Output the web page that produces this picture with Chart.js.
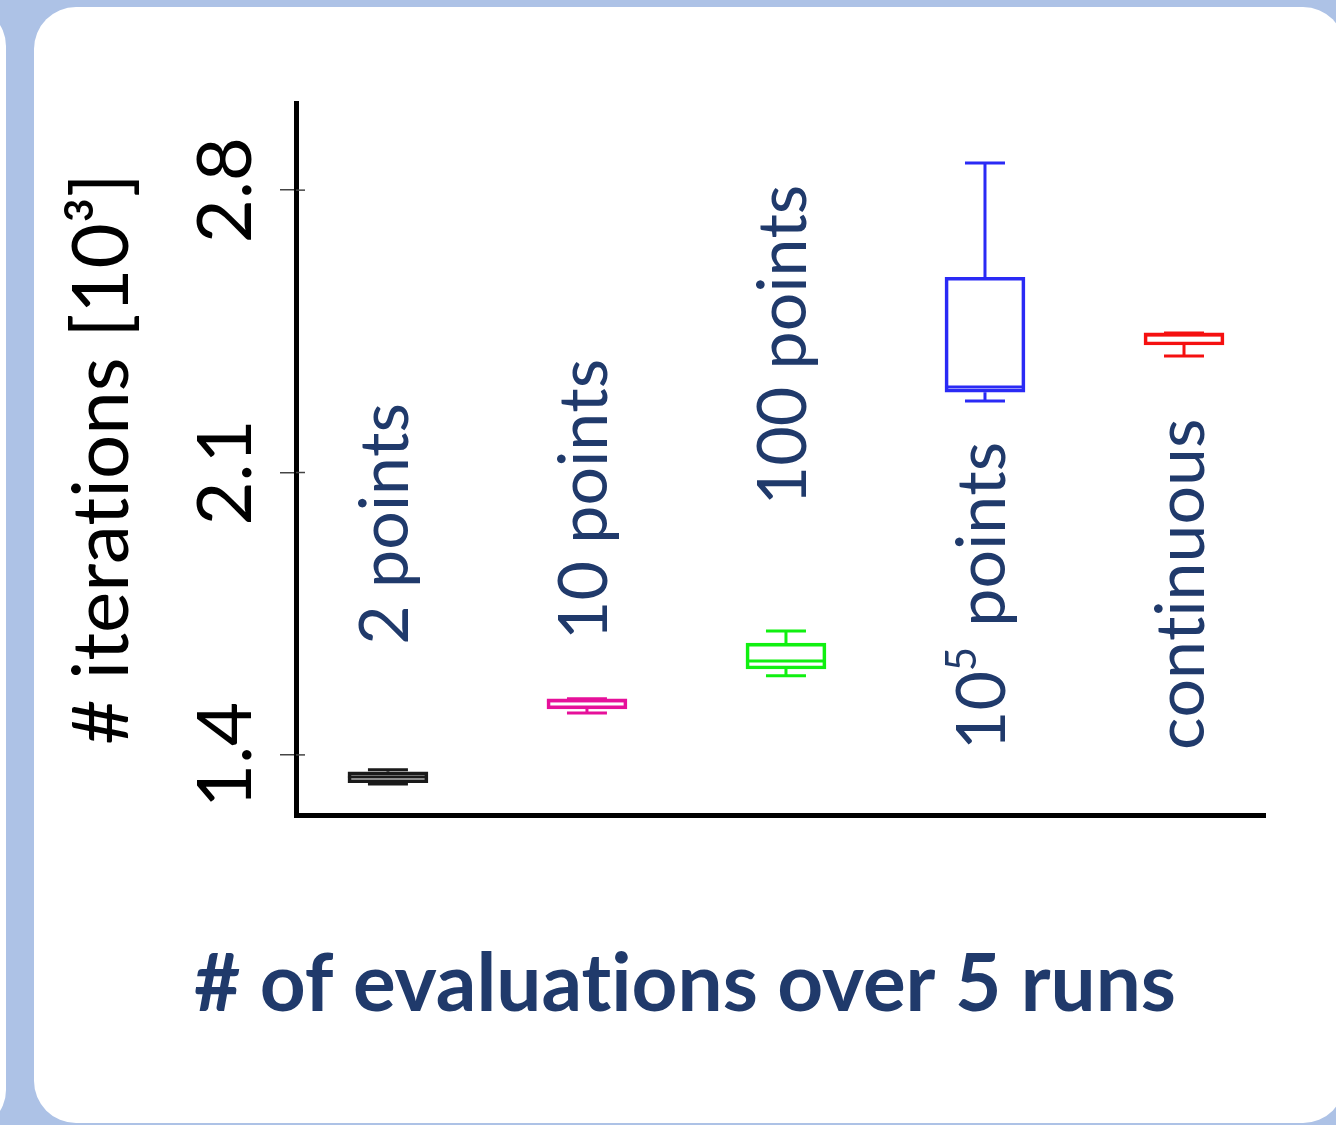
<!DOCTYPE html>
<html>
<head>
<meta charset="utf-8">
<script src="https://cdn.jsdelivr.net/npm/chart.js@4.4.0/dist/chart.umd.min.js"></script>
<style>
  html, body { margin: 0; padding: 0; width: 1336px; height: 1125px; overflow: hidden; background: #adc2e6; }
  .side  { position: absolute; left: -100px; top: 6px; width: 106px; height: 1124px; background: #fff; border-radius: 40px; }
  .panel { position: absolute; left: 34px; top: 7px; width: 1311px; height: 1116px; background: #fff; border-radius: 42px; }
  #wrap  { position: absolute; left: 0; top: 0; width: 1336px; height: 1125px; }
</style>
</head>
<body>
<div class="side"></div>
<div class="panel"></div>
<div id="wrap"><canvas id="c"></canvas></div>
<script>
// Evaluation schemes (one box per scheme) and their position on the x axis
const categories  = ['2 points', '10 points', '100 points', '10⁵ points', 'continuous'];
const positions   = [1, 2, 3, 4, 5];

// Iterations [10^3] over 5 runs: box-plot summary per scheme
const whiskerLow  = [1.328, 1.504, 1.596, 2.277, 2.389];
const q1          = [1.331, 1.514, 1.613, 2.299, 2.416];
const median      = [1.345, 1.534, 1.633, 2.312, 2.441];
const q3          = [1.358, 1.539, 1.677, 2.584, 2.446];
const whiskerHigh = [1.363, 1.539, 1.707, 2.867, 2.446];

// y-axis tick values
const yTicks = [1.4, 2.1, 2.8];

// value at which each rotated category label starts
const labelBase = [1.673, 1.685, 2.019, 1.412, 1.412];

// axis captions (ZWNJ keeps "t" and "i" from merging into a ligature)
const yTitle = '# it\u200Cerat\u200Cions [10³]';
const xTitle = '# of evaluat\u200Cions over 5 runs';

const boxColors = ['#1a1a1a', '#e6109a', '#10f010', '#2a2af5', '#f51010'];
const NAVY = '#203a6b';
const BOX_W = 80;

// draw text, rendering superscript digits smaller and raised
const SUP = { '⁰':'0','¹':'1','²':'2','³':'3','⁴':'4','⁵':'5','⁶':'6','⁷':'7','⁸':'8','⁹':'9' };
function drawRich(ctx, text, size, weight) {
  let xOff = 0;
  const norm = `${weight} ${size}px Lato`;
  const small = `${weight} ${Math.round(size * 0.62)}px Lato`;
  for (const ch of text) {
    if (SUP[ch]) {
      ctx.font = small;
      ctx.fillText(SUP[ch], xOff, -size * 0.3);
      xOff += ctx.measureText(SUP[ch]).width + size * 0.04;
    } else {
      ctx.font = norm;
      ctx.fillText(ch, xOff, 0);
      xOff += ctx.measureText(ch).width;
    }
  }
}

// medians, whiskers and caps, positioned through the chart scales
const boxParts = {
  id: 'boxParts',
  afterDatasetsDraw(chart) {
    const { ctx, scales: { x, y } } = chart;
    ctx.save();
    ctx.lineWidth = 3;
    positions.forEach((p, i) => {
      const cx = x.getPixelForValue(p);
      const half = BOX_W / 2, cap = BOX_W / 4;
      const yMed = y.getPixelForValue(median[i]);
      const yQ1 = y.getPixelForValue(q1[i]), yQ3 = y.getPixelForValue(q3[i]);
      const yLo = y.getPixelForValue(whiskerLow[i]), yHi = y.getPixelForValue(whiskerHigh[i]);
      ctx.strokeStyle = boxColors[i];
      ctx.beginPath();
      ctx.moveTo(cx - half, yMed); ctx.lineTo(cx + half, yMed);
      ctx.moveTo(cx, yQ3); ctx.lineTo(cx, yHi);
      ctx.moveTo(cx - cap, yHi); ctx.lineTo(cx + cap, yHi);
      ctx.moveTo(cx, yQ1); ctx.lineTo(cx, yLo);
      ctx.moveTo(cx - cap, yLo); ctx.lineTo(cx + cap, yLo);
      ctx.stroke();
    });
    // inner part of the y tick marks
    ctx.strokeStyle = '#444';
    ctx.lineWidth = 1.5;
    yTicks.forEach(v => {
      const py = y.getPixelForValue(v);
      ctx.beginPath();
      ctx.moveTo(x.left, py); ctx.lineTo(x.left + 9, py);
      ctx.stroke();
    });
    ctx.restore();
  },
  afterDraw(chart) {
    const { ctx, scales: { x, y } } = chart;
    ctx.save();
    ctx.fillStyle = NAVY;
    ctx.textBaseline = 'middle';
    ctx.textAlign = 'left';
    categories.forEach((label, i) => {
      ctx.save();
      ctx.translate(x.getPixelForValue(positions[i]) - 2, y.getPixelForValue(labelBase[i]));
      ctx.rotate(-Math.PI / 2);
      drawRich(ctx, label, 68, 'normal');
      ctx.restore();
    });
    // x-axis caption
    ctx.textAlign = 'center';
    ctx.font = 'bold 80px Lato';
    ctx.fillText(xTitle, 685, 985);
    ctx.restore();
  }
};

new Chart(document.getElementById('c'), {
  type: 'bar',
  data: {
    datasets: [{
      data: positions.map((p, i) => ({ x: p, y: [q1[i], q3[i]] })),
      backgroundColor: 'rgba(255,255,255,0)',
      borderColor: boxColors,
      borderWidth: 3,
      borderSkipped: false,
      barThickness: BOX_W
    }]
  },
  options: {
    responsive: true,
    maintainAspectRatio: false,
    animation: false,
    layout: { padding: { top: 103, right: 71, left: 0, bottom: 0 } },
    plugins: { legend: { display: false }, tooltip: { enabled: false } },
    scales: {
      x: {
        type: 'linear',
        offset: false,
        min: 0.538,
        max: 5.407,
        ticks: { display: false },
        grid: { display: false, offset: false },
        border: { display: true, color: '#000', width: 5 },
        afterFit(scale) { scale.height = 310; }
      },
      y: {
        type: 'linear',
        min: 1.251,
        max: 3.016,
        afterBuildTicks(scale) { scale.ticks = yTicks.map(v => ({ value: v })); },
        ticks: {
          color: '#000',
          font: { family: 'Lato', size: 76 },
          padding: 0,
          crossAlign: 'center',
          minRotation: 90,
          maxRotation: 90,
          callback: v => Number(v).toFixed(1)
        },
        grid: { drawOnChartArea: false, drawTicks: true, tickLength: 16, color: '#444', lineWidth: 1.5 },
        border: { display: true, color: '#000', width: 5 },
        title: {
          display: true,
          text: yTitle,
          color: '#000',
          font: { family: 'Lato', size: 78, lineHeight: 1.2 },
          padding: { top: 56, bottom: 0 }
        },
        afterFit(scale) { scale.width = 296; }
      }
    }
  },
  plugins: [boxParts]
});
</script>
</body>
</html>
